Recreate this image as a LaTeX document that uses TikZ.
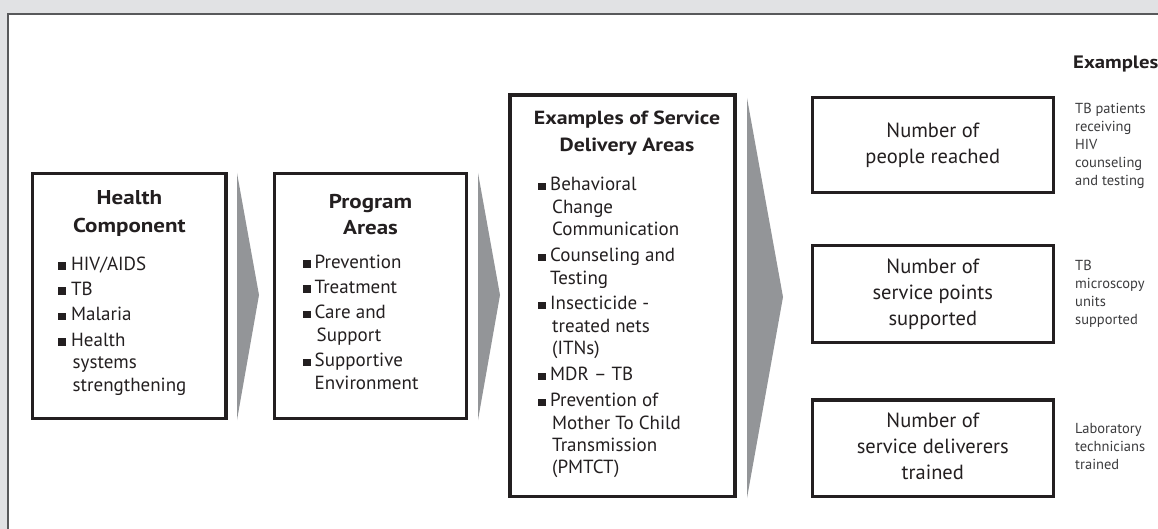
\documentclass[tikz,border=0pt]{standalone}
\usepackage{fontspec}
\setmainfont{PT Sans}
\newfontfamily\headfont{PT Sans}[FakeStretch=1.15]
\definecolor{ink}{HTML}{231F20}
\definecolor{bggrey}{HTML}{E1E2E4}
\definecolor{arrgrey}{HTML}{939598}
\definecolor{framegrey}{HTML}{58595B}
\definecolor{extext}{HTML}{3C3C3E}
\newcommand{\bsq}{\rule[0.5pt]{7.5pt}{7.5pt}}
\newcommand{\blist}[2]{\begin{tabular}[t]{@{}p{#1}@{}l@{}}#2\end{tabular}}
\newcommand{\ctab}[1]{\begin{tabular}[t]{@{}c@{}}#1\end{tabular}}
\newcommand{\cbox}[1]{\begin{tabular}{@{}c@{}}#1\end{tabular}}
\newcommand{\lbox}[1]{\begin{tabular}{@{}l@{}}#1\end{tabular}}
\begin{document}
\begin{tikzpicture}[x=1pt,y=-1pt,
  stagebox/.style={draw=ink,line width=3.4pt,inner sep=0pt},
  outbox/.style={draw=ink,line width=3.4pt,inner sep=0pt,
    minimum width=241pt,text=ink,font=\fontsize{20.5}{26}\selectfont},
  headtxt/.style={inner sep=0pt,anchor=base,text=ink},
  listtxt/.style={inner sep=0pt,anchor=base west,text=ink,font=\fontsize{19}{22.4}\selectfont},
  extxt/.style={inner sep=0pt,anchor=west,text=extext,font=\fontsize{14.5}{17.8}\selectfont},
  chevron/.style={fill=arrgrey,draw=none}]
\useasboundingbox (0,0) rectangle (1158,529);
\fill[bggrey] (0,0) rectangle (1158,529);
\fill[white] (8,14) rectangle (1170,540);
\draw[framegrey,line width=1.5pt] (8,540) -- (8,14) -- (1170,14);

% stage boxes
\node[stagebox,minimum width=193.3pt,minimum height=245pt] (hc) at (129.4,295.8) {};
\node[stagebox,minimum width=192.4pt,minimum height=245pt] (pa) at (370.5,295.8) {};
\node[stagebox,minimum width=225pt,minimum height=401.7pt] (sd) at (622.5,295.9) {};

% chevrons
\fill[chevron] (237,173) -- (259,295) -- (237,420) -- cycle;
\fill[chevron] (478,173) -- (500,295) -- (478,420) -- cycle;
\fill[chevron] (747,98) -- (783,297) -- (747,498) -- cycle;

% headings
\node[headtxt,font=\headfont\bfseries\fontsize{20}{27.5}\selectfont] (hchead) at (129.4,205)
  {\ctab{Health\\Component}};
\node[headtxt,font=\headfont\bfseries\fontsize{20}{26.5}\selectfont] (pahead) at (370.5,208.5)
  {\ctab{Program\\Areas}};
\node[headtxt,font=\headfont\bfseries\fontsize{19}{27}\selectfont] (sdhead) at (627,125)
  {\ctab{Examples of Service\\Delivery Areas}};

% lists
\node[listtxt] (hclist) at (58,270) {\blist{13pt}{%
  \bsq & HIV/AIDS\\[3pt]
  \bsq & TB\\[3pt]
  \bsq & Malaria\\[3pt]
  \bsq & Health\\
       & \hspace{1.5pt}systems\\
       & \hspace{1.5pt}strengthening}};
\node[listtxt] (palist) at (303,268) {\blist{11.5pt}{%
  \bsq & Prevention\\[3pt]
  \bsq & Treatment\\[3pt]
  \bsq & Care and\\
       & \hspace{2pt}Support\\[3pt]
       \bsq & Supportive\\
       & Environment}};
\node[listtxt] (sdlist) at (538,191) {\blist{12pt}{%
  \bsq & Behavioral\\
       & \hspace{2pt}Change\\
       & \hspace{2pt}Communication\\[3.5pt]
  \bsq & Counseling and\\
       & Testing\\[3.5pt]
  \bsq & Insecticide -\\
       & \hspace{2pt}treated nets\\
       & \hspace{2pt}(ITNs)\\[3.5pt]
  \bsq & MDR -- TB\\[3.5pt]
  \bsq & Prevention of\\
       & \hspace{2pt}Mother To Child\\
       & \hspace{2pt}Transmission\\
       & \hspace{2pt}(PMTCT)}};

% output boxes
\node[outbox,minimum height=94.6pt] (reach) at (932.8,145) {\cbox{Number of\\people reached}};
\node[outbox,minimum height=96.6pt] (points) at (932.8,294) {\cbox{Number of\\service points\\supported}};
\node[outbox,minimum height=96.7pt] (train) at (932.8,448.4) {\cbox{Number of\\service deliverers\\trained}};

% examples column
\node[inner sep=0pt,anchor=base west,text=ink,font=\headfont\bfseries\fontsize{18}{22}\selectfont] (exhead) at (1073,69) {Examples};
\node[extxt] (ex1) at (1075,146) {\lbox{TB patients\\receiving\\HIV\\counseling\\and testing}};
\node[extxt] (ex2) at (1075,294) {\lbox{TB\\microscopy\\units\\supported}};
\node[extxt] (ex3) at (1075,448) {\lbox{Laboratory\\technicians\\trained}};
\end{tikzpicture}
\end{document}
